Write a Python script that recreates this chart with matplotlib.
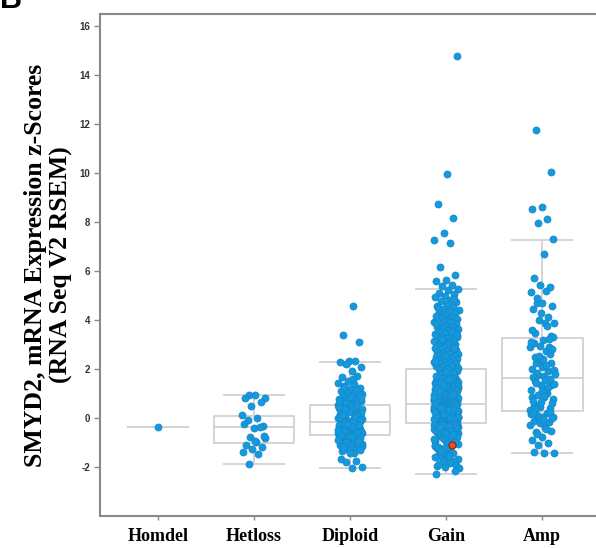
import numpy as np
import matplotlib
matplotlib.use("Agg")
import matplotlib.pyplot as plt

# categories and box statistics
categories = ["Homdel", "Hetloss", "Diploid", "Gain", "Amp"]
q1 = [-0.35, -1.02, -0.69, -0.20, 0.29]
med = [-0.35, -0.37, -0.16, 0.57, 1.63]
q3 = [-0.35, 0.08, 0.53, 2.00, 3.27]
whis_lo = [-0.35, -1.88, -2.04, -2.29, -1.43]
whis_hi = [-0.35, 0.95, 2.29, 5.27, 7.27]

homdel = [-0.35]

hetloss = [0.94, 0.83, 0.94, 0.82, 0.65, 0.50, 0.12, 0.01, -0.08, -0.31,
           -0.40, -0.25, -0.37, -0.78, -0.82, -0.98, -1.10, -1.18, -1.27, -1.37,
           -1.47, -1.87, -0.72, -0.94]

diploid = [4.57, 3.40, 3.10, 2.31, 2.27, 2.33, 2.22, 2.08, 1.91, 1.69,
           1.71, 1.52, 1.45, 1.38, 1.31, 1.24, 1.18, 1.12, 1.06, 1.02,
           0.97, 0.93, 0.89, 0.85, 0.81, 0.78, 0.75, 0.72, 0.69, 0.66,
           0.63, 0.60, 0.57, 0.55, 1.60, 1.28, 0.99, 0.87, 0.70, 1.15, 0.62, 0.83,
           0.50, 0.12, -0.05, 0.33, 0.41, 0.02, -0.12, 0.25, 0.47, 0.08,
           0.19, -0.09, 0.38, 0.29, 0.05, -0.14, 0.44, 0.15, -0.02, 0.35,
           0.22, 0.52, -0.07, 0.10, 0.31, 0.00, 0.42, 0.17, -0.11, 0.27,
           0.06, 0.48, 0.20, -0.04, 0.37, 0.13, -0.15, 0.24, 0.45, 0.03, 0.39, -0.10,
           -0.20, -0.35, -0.52, -0.27, -0.61, -0.44, -0.18, -0.39, -0.66, -0.31,
           -0.48, -0.23, -0.57, -0.42, -0.68, -0.29, -0.50, -0.37, -0.21, -0.63,
           -0.46, -0.33, -0.55, -0.25, -0.41, -0.60, -0.17, -0.53, -0.38, -0.65,
           -0.28, -0.47, -0.22, -0.58, -0.34, -0.43, -0.62, -0.26, -0.49, -0.36, -0.54, -0.30,
           -0.72, -0.80, -0.95, -0.76, -1.04, -0.85, -0.74, -1.12, -0.90, -0.78,
           -1.20, -0.98, -0.83, -1.07, -0.71, -1.28, -0.92, -1.15, -0.87, -1.00,
           -1.24, -0.79, -1.10, -1.31, -0.96, -1.18, -0.73, -1.36, -1.02, -1.26,
           -0.88, -1.43, -1.14, -1.31, -1.42, -1.67, -1.76, -1.79, -2.00, -2.04, -1.22, -0.94]

gain = [14.80, 9.95, 8.75, 8.16, 7.56, 7.27, 7.13, 6.15, 5.84, 5.63, 5.61, 5.43, 5.38,
        5.27, 5.21, 5.12, 5.06, 4.97, 4.93, 4.81, 4.77, 4.73, 4.64, 4.58, 4.55, 4.46,
        4.42, 4.39, 4.31, 4.28, 4.22, 4.17, 4.14, 4.08, 4.06, 4.01, 4.48, 4.87,
        3.98, 3.94, 3.91, 3.85, 3.83, 3.77, 3.72, 3.70, 3.66, 3.62, 3.58, 3.53, 3.51,
        3.46, 3.43, 3.37, 3.33, 3.30, 3.27, 3.24, 3.18, 3.16, 3.13, 3.09, 3.06, 3.03,
        3.01, 3.88, 3.57, 3.21, 3.41,
        2.98, 2.95, 2.93, 2.89, 2.86, 2.83, 2.81, 2.78, 2.74, 2.71, 2.69, 2.66, 2.63,
        2.61, 2.58, 2.55, 2.52, 2.49, 2.47, 2.44, 2.41, 2.38, 2.35, 2.33, 2.29, 2.27,
        2.24, 2.21, 2.19, 2.16, 2.13, 2.11, 2.08, 2.05, 2.03, 2.01, 2.87, 2.56, 2.31, 2.14,
        1.42, 0.88, 1.97, 1.13, 0.71, 1.66, 0.93, 1.28, 1.84, 0.62,
        1.05, 1.51, 0.79, 1.36, 1.92, 0.97, 1.19, 0.66, 1.73, 1.44,
        0.84, 1.08, 1.58, 0.75, 1.31, 1.88, 0.91, 1.22, 0.60, 1.69,
        1.02, 1.47, 0.82, 1.14, 1.79, 0.69, 1.26, 1.55, 0.95, 1.39,
        0.73, 1.61, 1.11, 0.86, 1.94, 1.33, 0.64, 1.00, 1.49, 0.77,
        1.24, 1.76, 0.99, 1.17, 0.58, 1.63, 1.41, 0.90, 1.07, 1.82,
        0.68, 1.29, 1.53, 0.81, 1.20, 0.94, 1.71, 1.35, 0.61, 1.10,
        1.45, 0.87, 1.86, 1.03, 0.74, 1.57, 1.25, 0.96, 1.38, 0.67,
        1.65, 1.16, 0.83, 1.99, 1.30, 0.72, 1.52, 1.06, 0.89, 1.43,
        0.59, 1.74, 1.21, 0.98, 1.34, 0.80, 1.60, 1.12, 0.63, 1.90,
        0.12, 0.45, -0.08, 0.31, 0.02, 0.54, -0.15, 0.22, 0.38, -0.03,
        0.09, 0.49, 0.17, -0.12, 0.27, 0.41, 0.05, -0.18, 0.34, 0.14,
        0.52, -0.06, 0.24, 0.43, 0.00, 0.19, -0.10, 0.36, 0.07, 0.47,
        -0.16, 0.29, 0.11, 0.55, -0.01, 0.21, 0.39, 0.04, -0.13, 0.32,
        0.15, 0.50, -0.07, 0.26, 0.44, 0.08, -0.19, 0.35, 0.18, 0.53,
        -0.04, 0.23, 0.40, 0.01, -0.11, 0.30, 0.13, 0.48, -0.14, 0.25,
        0.42, 0.06, -0.09, 0.33, 0.16, 0.51, -0.02, 0.20, 0.37, 0.03,
        -0.17, 0.28, 0.10, 0.46, -0.05, 0.22, 0.56, 0.12, -0.12, 0.30,
        0.08, 0.43, -0.20, 0.19, 0.35, 0.02, 0.50, -0.08, 0.26, 0.14,
        0.39, -0.15, 0.06, 0.32, 0.47, -0.03, 0.17, 0.24, 0.00, 0.41,
        -0.25, -0.31, -0.44, -0.22, -0.58, -0.37, -0.49, -0.28, -0.66, -0.41,
        -0.53, -0.34, -0.72, -0.24, -0.47, -0.61, -0.39, -0.80, -0.29, -0.55,
        -0.43, -0.69, -0.33, -0.51, -0.88, -0.26, -0.63, -0.46, -0.75, -0.36,
        -0.57, -0.94, -0.40, -0.68, -0.30, -0.83, -0.52, -0.23, -0.71, -0.45,
        -1.01, -0.60, -0.35, -0.78, -0.50, -0.91, -0.27, -0.65, -1.08, -0.42,
        -0.86, -0.56, -1.15, -0.74, -0.38, -0.97, -0.62, -1.22, -0.48, -0.82,
        -1.04, -0.32, -1.30, -0.70, -0.90, -1.12, -0.54, -1.37, -0.77, -1.00,
        -1.19, -0.64, -1.45, -0.85, -1.26, -1.52, -0.96, -1.33, -1.60, -1.06,
        -1.41, -1.68, -1.17, -1.49, -1.76, -1.24, -1.58, -1.84, -1.35, -1.90,
        -1.65, -1.95, -1.44, -1.74, -2.03, -1.55, -1.87, -2.15, -1.98, -2.29]

amp = [11.78, 10.05, 8.60, 8.54, 8.12, 7.95, 7.31, 6.71, 5.74, 5.36, 5.44, 5.14, 5.20,
       4.68, 4.57, 4.71, 4.44, 4.14, 4.00, 3.89, 3.87, 3.46, 3.37, 4.30, 3.60, 3.75,
       4.90, 3.33,
       3.18, 3.05, 2.89, 2.94, 2.89, 2.72, 2.23, 2.26, 2.07, 2.01, 1.93, 1.74, 1.96,
       1.71, 2.50, 2.60, 2.35, 3.10, 2.15, 1.85, 2.80, 2.42, 1.67, 3.22, 2.55, 1.80,
       1.55, 1.52, 1.33, 1.33, 0.87, 1.01, 0.95, 0.79, 0.84, 0.49, 0.41, 0.44, 0.33,
       1.20, 1.45, 0.62, 1.10, 0.70, 1.27, 0.55, 1.40, 0.92, 0.36, 1.60, 0.66, 1.15,
       0.19, 0.11, 0.05, 0.05, -0.11, -0.16, -0.03, -0.30, -0.35, -0.57, -0.52,
       -0.76, -0.90, -1.01, -1.11, -1.42, -1.42, -1.40, 0.24, -0.22, 0.15, -0.45,
       -0.65, 0.00, -0.07, 0.22]

# highlighted sample in the Gain group
highlight_cat = 3
highlight_val = -1.10

groups = [homdel, hetloss, diploid, gain, amp]

fig = plt.figure(figsize=(5.96, 5.48), dpi=100)
ax = fig.add_axes([0.168, 0.0584, 0.832, 0.916])

# boxes
stats = []
for i in range(len(categories)):
    stats.append(dict(q1=q1[i], med=med[i], q3=q3[i], whislo=whis_lo[i],
                      whishi=whis_hi[i], fliers=[]))
box_col = "#d4d4d4"
ax.bxp(stats, positions=range(len(categories)), widths=[0.62, 0.84, 0.84, 0.84, 0.84],
       capwidths=0.62, showfliers=False, patch_artist=False,
       boxprops=dict(color=box_col, lw=1.4),
       medianprops=dict(color=box_col, lw=1.4),
       whiskerprops=dict(color=box_col, lw=1.4),
       capprops=dict(color=box_col, lw=1.4), zorder=1)

# jittered points
golden = 0.6180339887
for i, vals in enumerate(groups):
    n = len(vals)
    if n == 1:
        offs = np.zeros(1)
    else:
        offs = ((np.arange(n) * golden + 0.31 * i) % 1.0 - 0.5) * 0.26
    ax.scatter(i + offs, vals, s=26, color="#1299de", edgecolors="#1a86c4",
               linewidths=0.5, zorder=3)

ax.scatter([highlight_cat + 0.06], [highlight_val], s=26, color="#e8501c",
           edgecolors="#8a2a10", linewidths=0.8, zorder=4)

ax.set_xlim(-0.6, 4.56)
ax.set_ylim(-4, 16.5)
ax.set_yticks(range(-2, 17, 2))
ax.set_yticklabels([str(v) for v in range(-2, 17, 2)], fontsize=7,
                   fontweight="bold", family="Liberation Sans", color="#333333")
ax.set_xticks(range(len(categories)))
ax.set_xticklabels(categories, fontsize=13, fontweight="bold",
                   family="Liberation Serif")
ax.tick_params(axis="y", length=4, width=1, color="#888888", pad=3)
ax.tick_params(axis="x", length=3, width=1, color="#888888", pad=6)

for side in ["left", "top", "bottom"]:
    ax.spines[side].set_color("#8a8a8a")
    ax.spines[side].set_linewidth(1.5)
ax.spines["right"].set_visible(False)

ax.set_ylabel("SMYD2, mRNA Expression z-Scores\n(RNA Seq V2 RSEM)", fontsize=18.5,
              fontweight="bold", family="Liberation Serif", labelpad=5,
              linespacing=1.1)

fig.text(0.0, 1.0, "B", fontsize=22, fontweight="bold", family="Liberation Sans",
         ha="left", va="center")

fig.savefig("out.png", dpi=100)
